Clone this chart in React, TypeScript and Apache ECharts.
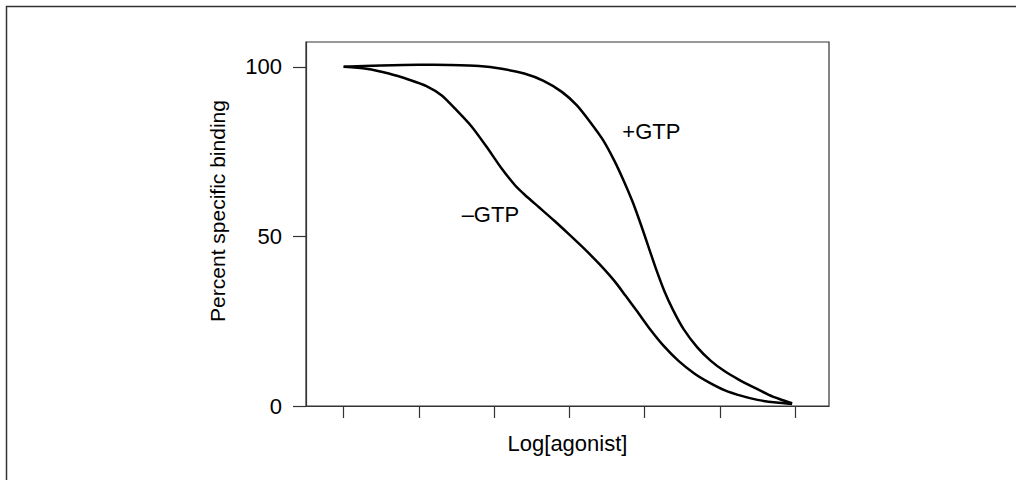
import React, { useEffect, useRef } from "react";
import * as echarts from "echarts";

// Tick positions (log concentration steps) and y tick values
const xTicks = [0, 1, 2, 3, 4, 5, 6];
const yTicks = [0, 50, 100];

// Displacement curve without GTP (biphasic, high + low affinity)
const minusGtpX = [0, 0.3, 0.6, 0.88, 1.1, 1.3, 1.5, 1.7, 1.9, 2.1, 2.28, 2.41, 2.6, 2.8, 3.0, 3.2, 3.4, 3.6, 3.75, 3.9, 4.08, 4.25, 4.45, 4.66, 4.86, 5.06, 5.3, 5.5, 5.75, 5.96];
const minusGtpY = [100, 99.4, 98.0, 96.1, 94.3, 91.6, 87.2, 82.4, 76.4, 70.0, 65.0, 62.2, 58.5, 54.6, 50.5, 46.3, 41.8, 36.8, 32.4, 27.9, 22.4, 17.8, 13.3, 9.6, 6.9, 4.7, 2.9, 1.8, 1.0, 0.6];

// Displacement curve with GTP (single low-affinity site)
const plusGtpX = [0, 0.5, 1.0, 1.4, 1.8, 2.1, 2.4, 2.65, 2.9, 3.1, 3.3, 3.45, 3.6, 3.72, 3.84, 3.95, 4.05, 4.15, 4.26, 4.38, 4.52, 4.7, 4.88, 5.06, 5.25, 5.45, 5.65, 5.8, 5.96];
const plusGtpY = [100, 100.4, 100.6, 100.5, 100.2, 99.4, 98.0, 95.9, 92.6, 88.6, 83.0, 78.3, 72.2, 66.5, 60.2, 53.5, 47.0, 40.5, 34.0, 28.2, 22.6, 17.3, 13.3, 10.3, 7.8, 5.5, 3.3, 2.0, 0.8];

// Curve labels, placed in data coordinates
const curveLabels = ["+GTP", "\u2013GTP"];
const labelX = [4.09, 1.95];
const labelY = [80.9, 56.4];

const FONT = "'Liberation Sans', Arial, Helvetica, sans-serif";
const INK = "#000";
const AXIS = "#333";

const zip = (xs: number[], ys: number[]) => xs.map((x, i) => [x, ys[i]]);

export default function App() {
  const ref = useRef<HTMLDivElement>(null);

  useEffect(() => {
    if (!ref.current) return;
    const chart = echarts.init(ref.current, null, { renderer: "svg" });

    const curveStyle = { color: "#000", width: 2.5 };
    const labelFor = (i: number) => ({
      symbol: "circle",
      symbolSize: 1,
      itemStyle: { color: "rgba(0,0,0,0)" },
      label: {
        show: true,
        position: "inside",
        formatter: curveLabels[i],
        fontFamily: FONT,
        fontSize: 22,
        color: INK,
      },
      data: [{ coord: [labelX[i], labelY[i]] }],
    });

    chart.setOption({
      animation: false,
      backgroundColor: "#fff",
      grid: {
        left: 306,
        right: 187,
        top: 42,
        bottom: 74,
        show: true,
        borderColor: AXIS,
        borderWidth: 1.2,
        backgroundColor: "transparent",
      },
      xAxis: {
        type: "value",
        min: -0.5,
        max: 6.45,
        name: "Log[agonist]",
        nameLocation: "middle",
        nameGap: 26,
        nameTextStyle: { fontFamily: FONT, fontSize: 22, color: INK },
        axisLine: { show: true, onZero: false, lineStyle: { color: AXIS, width: 1.2 } },
        axisTick: {
          show: true,
          length: 12,
          customValues: xTicks,
          lineStyle: { color: AXIS, width: 1.2 },
        },
        axisLabel: { show: false },
        splitLine: { show: false },
      },
      yAxis: {
        type: "value",
        min: 0,
        max: 107.3,
        axisLine: { show: true, onZero: false, lineStyle: { color: AXIS, width: 1.2 } },
        axisTick: {
          show: true,
          length: 13,
          customValues: yTicks,
          lineStyle: { color: AXIS, width: 1.2 },
        },
        axisLabel: {
          show: true,
          customValues: yTicks,
          margin: 24,
          fontFamily: FONT,
          fontSize: 22,
          color: INK,
        },
        splitLine: { show: false },
      },
      graphic: [
        {
          type: "rect",
          silent: true,
          shape: { x: 6.5, y: 6.5, width: 1200, height: 600 },
          style: { fill: "none", stroke: AXIS, lineWidth: 1.5 },
        },
        {
          type: "text",
          silent: true,
          x: 217,
          y: 211,
          rotation: Math.PI / 2,
          style: {
            text: "Percent specific binding",
            fontFamily: FONT,
            fontSize: 21,
            fill: INK,
            align: "center",
            verticalAlign: "middle",
          },
        },
      ],
      series: [
        {
          type: "line",
          name: "+GTP",
          data: zip(plusGtpX, plusGtpY),
          showSymbol: false,
          smooth: 0.25,
          lineStyle: curveStyle,
          z: 3,
          markPoint: labelFor(0),
        },
        {
          type: "line",
          name: "-GTP",
          data: zip(minusGtpX, minusGtpY),
          showSymbol: false,
          smooth: 0.25,
          lineStyle: curveStyle,
          z: 3,
          markPoint: labelFor(1),
        },
      ],
    });

    return () => chart.dispose();
  }, []);

  return (
    <div
      ref={ref}
      style={{ position: "absolute", left: 0, top: 0, width: 1016, height: 480 }}
    />
  );
}
